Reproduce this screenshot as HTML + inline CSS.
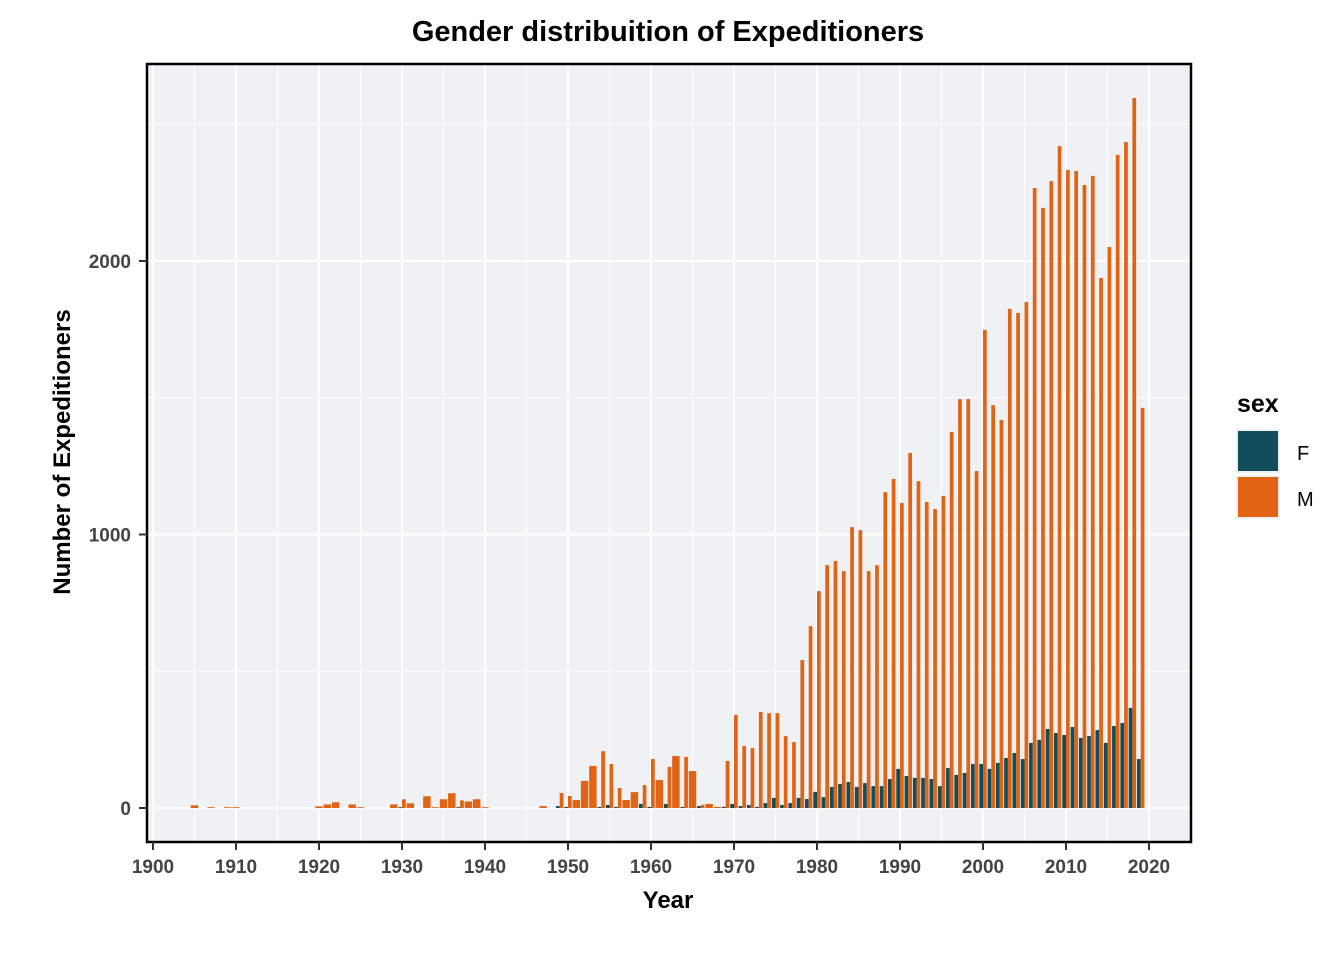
<!DOCTYPE html>
<html><head><meta charset="utf-8"><style>
body{margin:0;background:#fff;}
svg text{font-family:"Liberation Sans",sans-serif;}
</style></head><body>
<svg id="chart" width="1344" height="960" xmlns="http://www.w3.org/2000/svg">
<text x="668" y="41" text-anchor="middle" font-size="29" font-weight="bold" fill="#000">Gender distribuition of Expeditioners</text>
<rect x="147" y="64" width="1044" height="778" fill="#F0F1F5"/>
<g id="grid"></g>
<g id="bars"></g>
<rect x="147" y="64" width="1044" height="778" fill="none" stroke="#000" stroke-width="2.5"/>
<g id="axes"></g>
<text x="668" y="908" text-anchor="middle" font-size="24" font-weight="bold" fill="#000">Year</text>
<text transform="translate(70,452) rotate(-90)" text-anchor="middle" font-size="24" font-weight="bold" fill="#000">Number of Expeditioners</text>
<g>
<text x="1237" y="412" font-size="25" font-weight="bold" fill="#000">sex</text>
<rect x="1236" y="429" width="44" height="44" fill="#F0F0F0"/>
<rect x="1238" y="431" width="40" height="40" fill="#114D5C"/>
<text x="1297" y="460" font-size="20" fill="#000">F</text>
<rect x="1236" y="475" width="44" height="44" fill="#F0F0F0"/>
<rect x="1238" y="477" width="40" height="40" fill="#E06414"/>
<text x="1297" y="506" font-size="20" fill="#000">M</text>
</g>
</svg>
<script>
const years = [1905,1907,1909,1910,1920,1921,1922,1924,1925,1929,1930,1931,1933,1934,1935,1936,1937,1938,1939,1940,1947,1949,1950,1951,1952,1953,1954,1955,1956,1957,1958,1959,1960,1961,1962,1963,1964,1965,1966,1967,1968,1969,1970,1971,1972,1973,1974,1975,1976,1977,1978,1979,1980,1981,1982,1983,1984,1985,1986,1987,1988,1989,1990,1991,1992,1993,1994,1995,1996,1997,1998,1999,2000,2001,2002,2003,2004,2005,2006,2007,2008,2009,2010,2011,2012,2013,2014,2015,2016,2017,2018,2019];
const femaleCounts = [0,0,0,0,0,0,0,0,0,0,3,0,0,0,0,0,3,0,0,0,0,7,4,0,0,0,4,11,4,0,0,15,4,0,15,0,4,0,7,0,0,4,15,7,11,4,18,37,11,18,37,33,59,40,77,88,95,77,91,80,80,106,143,117,110,110,106,80,146,121,128,161,161,143,165,183,201,179,238,249,289,274,267,296,256,263,285,238,300,311,366,179];
const maleCounts = [10,3,3,3,6,13,21,13,3,13,32,17,43,3,32,54,28,24,32,3,7,55,44,29,99,154,208,161,73,29,58,84,179,102,150,190,187,135,11,15,4,172,340,227,219,351,347,347,263,241,541,665,793,888,903,866,1027,1016,866,888,1155,1203,1115,1298,1195,1119,1093,1141,1375,1495,1495,1232,1748,1473,1419,1825,1810,1850,2267,2194,2292,2420,2333,2329,2278,2311,1938,2051,2388,2435,2596,1463];
const yTicks = [0,1000,2000];
const xTicks = [1900,1910,1920,1930,1940,1950,1960,1970,1980,1990,2000,2010,2020];

const NS="http://www.w3.org/2000/svg";
const X0=153, XS=8.3, Y0=808, YS=0.2735;
const xs = y => X0 + (y-1900)*XS;
const ys = v => Y0 - v*YS;
function mk(tag, attrs, parent){const e=document.createElementNS(NS,tag);for(const k in attrs)e.setAttribute(k,attrs[k]);parent.appendChild(e);return e;}
const grid=document.getElementById('grid'), bars=document.getElementById('bars'), axes=document.getElementById('axes');
for(let v=500; v<=2500; v+=1000){const l=mk('line',{x1:147,x2:1191,y1:ys(v),y2:ys(v),stroke:'#fff','stroke-width':1},grid);

}
for(let y=1905; y<=2025; y+=10){const l=mk('line',{x1:xs(y),x2:xs(y),y1:64,y2:842,stroke:'#fff','stroke-width':1},grid);

}
yTicks.forEach(v=>{const l=mk('line',{x1:147,x2:1191,y1:ys(v),y2:ys(v),stroke:'#fff','stroke-width':2},grid);


const t=mk('line',{x1:139,x2:147,y1:ys(v),y2:ys(v),stroke:'#333','stroke-width':2},axes);


const tx=mk('text',{x:131,y:ys(v)+7,'text-anchor':'end','font-size':19,'font-weight':'bold',fill:'#444'},axes);tx.textContent=v;

});
xTicks.forEach(y=>{const l=mk('line',{x1:xs(y),x2:xs(y),y1:64,y2:842,stroke:'#fff','stroke-width':2},grid);


const t=mk('line',{x1:xs(y),x2:xs(y),y1:842,y2:850,stroke:'#333','stroke-width':2},axes);


const tx=mk('text',{x:xs(y),y:873,'text-anchor':'middle','font-size':19,'font-weight':'bold',fill:'#444'},axes);tx.textContent=y;

});
const W=0.9*XS;
years.forEach((yr,i)=>{
  const f=femaleCounts[i], m=maleCounts[i], cx=xs(yr);
  if(f>0){
    const r=mk('rect',{x:cx-W/2,y:ys(f),width:W/2,height:f*YS,fill:'#114D5C'},bars);
    
    
    const r2=mk('rect',{x:cx,y:ys(m),width:W/2,height:m*YS,fill:'#E06414'},bars);
    
    
  } else {
    const r2=mk('rect',{x:cx-W/2,y:ys(m),width:W,height:m*YS,fill:'#E06414'},bars);
    
    
  }
});
</script>
</body></html>
